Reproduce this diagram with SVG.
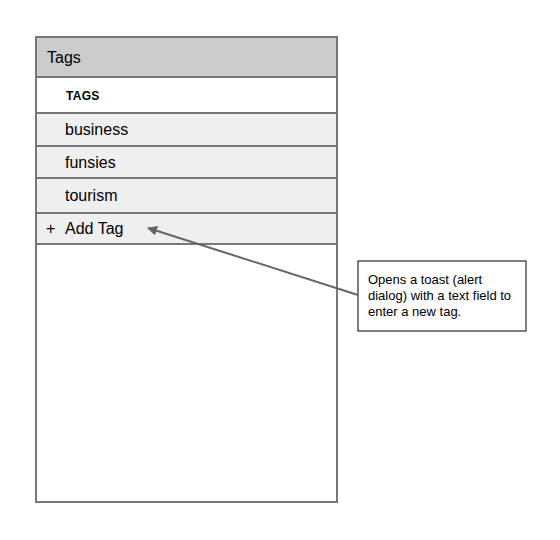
<svg xmlns="http://www.w3.org/2000/svg" width="560" height="540" viewBox="0 0 560 540">
<defs>
<style>
.row{fill:#efefef;stroke:#777;stroke-width:2}
.t{font-family:"Liberation Sans",Arial,sans-serif;font-size:16px;fill:#000}
.n{font-family:"Liberation Sans",Arial,sans-serif;font-size:13px;fill:#000}
</style>
<marker id="ah" viewBox="0 0 10 10" refX="9" refY="5" markerWidth="5" markerHeight="5" orient="auto" markerUnits="strokeWidth">
<path d="M0,0 L10,5 L0,10 z" fill="#666"/>
</marker>
</defs>
<rect width="560" height="540" fill="#fff"/>
<g id="panel">
<rect x="36" y="37" width="301" height="465" fill="#fff" stroke="#777" stroke-width="2"/>
<rect x="36" y="37" width="301" height="40" fill="#ccc" stroke="#777" stroke-width="2"/>
<text class="t" x="47" y="63">Tags</text>
</g>
<g id="tags-label">
<text x="66" y="100" font-family="'Liberation Sans',Arial,sans-serif" font-size="12" font-weight="bold" letter-spacing="0.3">TAGS</text>
</g>
<g id="business">
<rect class="row" x="36" y="113" width="301" height="33"/>
<text class="t" x="65" y="135">business</text>
</g>
<g id="funsies">
<rect class="row" x="36" y="146" width="301" height="32"/>
<text class="t" x="65" y="168">funsies</text>
</g>
<g id="tourism">
<rect class="row" x="36" y="178" width="301" height="35"/>
<text class="t" x="65" y="201">tourism</text>
</g>
<g id="add-tag">
<rect class="row" x="36" y="213" width="301" height="31"/>
<text class="t" x="46" y="234">+</text>
<text class="t" x="65" y="234">Add Tag</text>
</g>
<g id="note">
<rect x="358" y="261" width="168" height="70" fill="#fff" stroke="#000" stroke-width="1"/>
<text class="n" x="368" y="284">Opens a toast (alert</text>
<text class="n" x="368" y="300">dialog) with a text field to</text>
<text class="n" x="368" y="316">enter a new tag.</text>
</g>
<g id="connectors">
<line x1="358" y1="295" x2="148" y2="228" stroke="#666" stroke-width="2" marker-end="url(#ah)"/>
</g>
</svg>
